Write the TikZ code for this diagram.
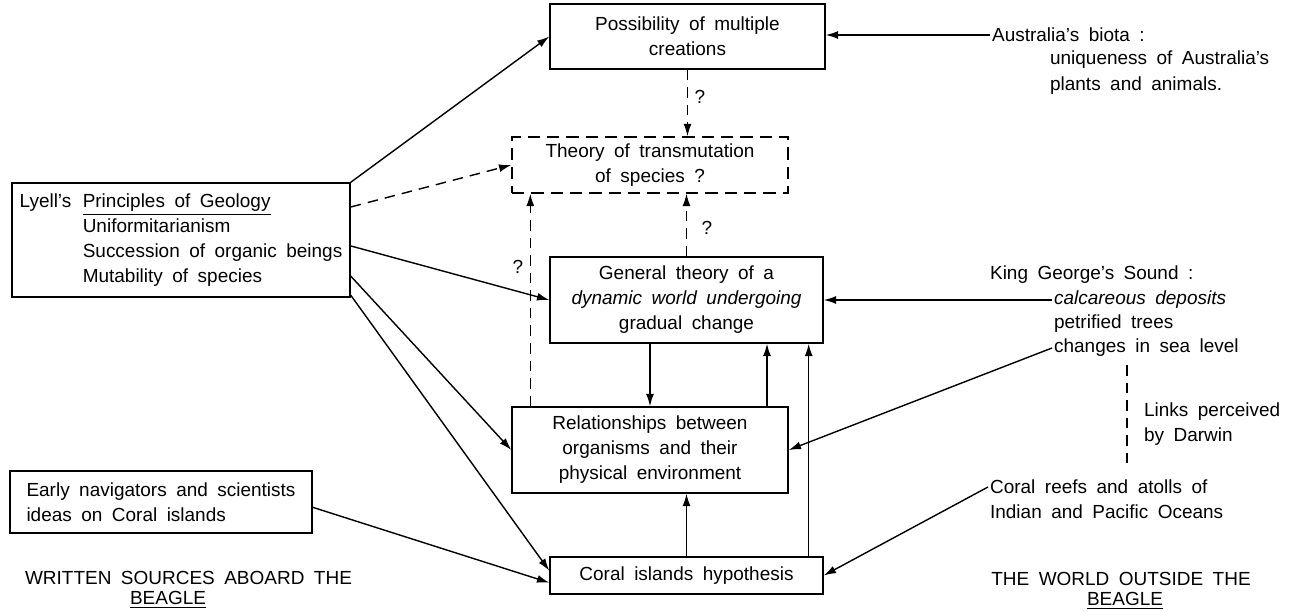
\documentclass[tikz,border=0pt]{standalone}
\usepackage{fontspec}
\setmainfont{Liberation Sans}[WordSpace=1.8]
\usetikzlibrary{calc}
\usetikzlibrary{positioning}
\usetikzlibrary{arrows.meta}

\begin{document}
\begin{tikzpicture}[every node/.style={inner sep=1pt, font=\fontsize{10.8}{14.2}\selectfont},
		block/.style={draw, line width=0.8pt, align=center},
		dblock/.style={block, dash pattern=on 7pt off 4pt},
		arr/.style={-{Latex[length=7pt,width=4.5pt]}, line width=0.8pt},
		darr/.style={arr, dash pattern=on 6pt off 4pt}]
		\useasboundingbox (0,0) rectangle (25.82,-12.24);

		% Central column
		\node[block, minimum width=5.5cm, minimum height=1.3cm] (poss) at (13.75,-0.73) {Possibility of multiple\\creations};
		\node[dblock, minimum width=5.52cm, minimum height=1.12cm] (theo) at (13.0,-3.3) {Theory of transmutation\\of species ?};
		\node[block, minimum width=5.46cm, minimum height=1.72cm] (gen) at (13.73,-6.0) {General theory of a\\\textit{dynamic world undergoing}\\gradual change};
		\node[block, minimum width=5.52cm, minimum height=1.72cm] (rel) at (13.0,-9.0) {Relationships between\\organisms and their\\physical environment};
		\node[block, minimum width=5.46cm, minimum height=0.74cm] (coral) at (13.73,-11.51) {Coral islands hypothesis};

		% Written sources
		\node[block, minimum width=6.76cm, minimum height=2.28cm] (lyell) at (3.62,-4.8) {%
			\begin{tabular}{@{}l@{\hspace{6.5pt}}l@{}}
				Lyell's & \underline{Principles of Geology}\\
				& Uniformitarianism\\
				& Succession of organic beings\\
				& Mutability of species
			\end{tabular}};
		\node[block, align=left, minimum width=6.04cm, minimum height=1.24cm] (early) at (3.22,-10.04) {Early navigators and scientists\\ideas on Coral islands};

		% The world outside
		\node[anchor=west] (aus)  at (19.8,-0.7)   {Australia's biota :};
		\node[anchor=west] (aus1) at (20.96,-1.2)  {uniqueness of Australia's};
		\node[anchor=west] (aus2) at (20.96,-1.72) {plants and animals.};
		\node[anchor=west] (kgs)  at (19.76,-5.5)  {King George's Sound :};
		\node[anchor=west] (calc) at (21.04,-6.0)  {\textit{calcareous deposits}};
		\node[anchor=west] (petr) at (21.04,-6.48) {petrified trees};
		\node[anchor=west] (sea)  at (21.04,-6.96) {changes in sea level};
		\node[anchor=west] (links)  at (22.84,-8.24) {Links perceived};
		\node[anchor=west] (darwin) at (22.84,-8.74) {by Darwin};
		\node[anchor=west] (reef)  at (19.76,-9.74)  {Coral reefs and atolls of};
		\node[anchor=west] (ocean) at (19.76,-10.24) {Indian and Pacific Oceans};
		\coordinate (lk1) at (22.54,-7.3);
		\coordinate (lk2) at (22.54,-9.4);

		% Headings
		\node (wsrc)   at (3.77,-11.56) {WRITTEN SOURCES ABOARD THE};
		\node (wsrc2)  at (3.36,-12.0)  {\underline{BEAGLE}};
		\node (world)  at (22.42,-11.58) {THE WORLD OUTSIDE THE};
		\node (world2) at (22.5,-12.02)  {\underline{BEAGLE}};

		% Question marks
		\node (q1) at (14.0,-1.94) {?};
		\node (q2) at (14.14,-4.56) {?};
		\node (q3) at (10.36,-5.34) {?};

		% Arrows from Lyell and early navigators
		\draw[arr] (lyell.north east) -- (poss.west);
		\draw[darr] (lyell.11) -- (theo.west);
		\draw[arr] (lyell.-2) -- (gen.west);
		\draw[arr] (lyell.-12) -- (rel.west);
		\draw[arr] (lyell.-18) -- (coral.178);
		\draw[arr] (early.-2) -- (coral.183);

		% Links in the central column
		\coordinate (qa) at ([xshift=0.38cm]rel.north west);
		\coordinate (ru) at ([xshift=2.34cm]rel.north);
		\coordinate (cu) at ([xshift=-0.3cm]coral.north east);
		\draw[darr] (poss.south) -- (poss.south |- theo.north);
		\draw[darr] (gen.north) -- (gen.north |- theo.south);
		\draw[darr] (qa) -- (qa |- theo.south);
		\draw[arr] (rel.north |- gen.south) -- (rel.north);
		\draw[arr] (ru) -- (ru |- gen.south);
		\draw[arr] (coral.north) -- (coral.north |- rel.south);
		\draw[arr] (cu) -- (cu |- gen.south);

		% Arrows from the world outside
		\draw[arr] (aus.west) -- (aus.west -| poss.east);
		\draw[arr] (calc.west) -- (gen.east);
		\draw[arr] (sea.west) -- (rel.east);
		\draw[arr] (reef.west) -- (coral.east);
		\draw[line width=0.8pt, dash pattern=on 6pt off 4pt] (lk1) -- (lk2);
	\end{tikzpicture}
\end{document}
